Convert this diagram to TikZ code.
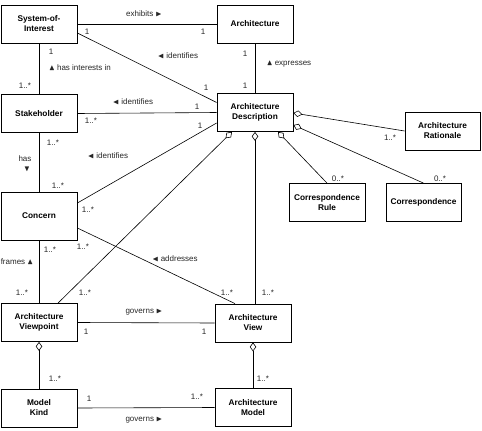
\documentclass[tikz,border=0pt]{standalone}
\usepackage{amssymb}
\usepackage{amsmath}
\usepackage{fontspec}
\setmainfont{Liberation Sans}
\usetikzlibrary{arrows.meta}
\tikzset{
  cls/.style={draw, line width=0.8pt, minimum width=76pt, minimum height=38pt,
    align=center, inner sep=1pt, font=\bfseries\fontsize{8.3}{10}\selectfont},
  lbl/.style={font=\fontsize{8}{9.5}\selectfont, text=black!85, inner sep=0pt},
  agg/.style={{Diamond[open,length=9pt,width=6.5pt]}-}
}

\begin{document}
\begin{tikzpicture}[x=1pt,y=-1pt,line width=0.6pt]
\useasboundingbox (0,0) rectangle (482,431);
% classes
\node[cls] (soi) at (39,24) {System-of-\\Interest};
\node[cls] (arch) at (255,24) {Architecture};
\node[cls] (stake) at (39,113.5) {Stakeholder};
\node[cls] (ad) at (255,112.5) {Architecture\\Description};
\node[cls, minimum width=75pt] (rat) at (442.5,131) {Architecture\\Rationale};
\node[cls] (crule) at (327,202.5) {Correspondence\\Rule};
\node[cls, minimum width=75pt] (corr) at (423.5,202.5) {Correspondence};
\node[cls, minimum height=48pt] (concern) at (39,216) {Concern};
\node[cls] (vp) at (39,322.5) {Architecture\\Viewpoint};
\node[cls] (view) at (253,323) {Architecture\\View};
\node[cls] (mk) at (39,408) {Model\\Kind};
\node[cls] (model) at (253,407.5) {Architecture\\Model};
% associations
\draw (soi.east) -- (arch.west);
\draw ([yshift=-9pt]soi.east) -- ([yshift=10pt]ad.west);
\draw (arch.south) -- (ad.north);
\draw (soi.south) -- (stake.north);
\draw (stake.east) -- (ad.west);
\draw (stake.south) -- (concern.north);
\draw ([yshift=13pt]concern.east) -- ([yshift=-10.5pt]ad.west);
\draw ([yshift=-12pt]concern.east) -- ([xshift=-18pt]view.north);
\draw (concern.south) -- (vp.north);
\draw (vp.east) -- (view.west);
\draw (mk.east) -- (model.west);
% aggregations
\draw[agg] ([xshift=-23pt]ad.south) -- ([xshift=19pt]vp.north);
\draw[agg] (ad.south) -- (ad.south |- view.north);
\draw[agg] ([xshift=23pt]ad.south) -- (crule.north);
\draw[agg] ([yshift=-0.5pt]ad.east) -- (rat.west);
\draw[agg] ([yshift=-12.5pt]ad.east) -- (corr.north);
\draw[agg] (vp.south) -- (mk.north);
\draw[agg] (view.south) -- (model.north);
% association names
\node[lbl] (n1) at (144,14) {exhibits $\blacktriangleright$};
\node[lbl] (n2) at (178,56) {$\blacktriangleleft$ identifies};
\node[lbl] (n3) at (289,64) {$\blacktriangle$ expresses};
\node[lbl] (n4) at (80,68) {$\blacktriangle$ has interests in};
\node[lbl] (n5) at (133,102) {$\blacktriangleleft$ identifies};
\node[lbl] (n6) at (25,159) {has};
\node[lbl] (n7) at (27,169) {$\blacktriangledown$};
\node[lbl] (n8) at (108,156) {$\blacktriangleleft$ identifies};
\node[lbl] (n9) at (175,259) {$\blacktriangleleft$ addresses};
\node[lbl] (n10) at (17,262) {frames $\blacktriangle$};
\node[lbl] (n11) at (144,312) {governs $\blacktriangleright$};
\node[lbl] (n12) at (144,420) {governs $\blacktriangleright$};
% multiplicities
\node[lbl] (m1) at (87,32) {1};
\node[lbl] (m2) at (203,32) {1};
\node[lbl] (m3) at (206,88) {1};
\node[lbl] (m4) at (245,54) {1};
\node[lbl] (m5) at (245,86) {1};
\node[lbl] (m6) at (51,52) {1};
\node[lbl] (m7) at (25,86) {1..*};
\node[lbl] (m8) at (91,121) {1..*};
\node[lbl] (m9) at (197,107) {1};
\node[lbl] (m10) at (200,126) {1};
\node[lbl] (m11) at (53,143) {1..*};
\node[lbl] (m12) at (58,186) {1..*};
\node[lbl] (m13) at (88,210) {1..*};
\node[lbl] (m14) at (83,247) {1..*};
\node[lbl] (m15) at (50,250) {1..*};
\node[lbl] (m16) at (22,293) {1..*};
\node[lbl] (m17) at (85,293) {1..*};
\node[lbl] (m18) at (227,293) {1..*};
\node[lbl] (m19) at (268,293) {1..*};
\node[lbl] (m20) at (86,332) {1};
\node[lbl] (m21) at (204,332) {1};
\node[lbl] (m22) at (55,379) {1..*};
\node[lbl] (m23) at (263,379) {1..*};
\node[lbl] (m24) at (89,399) {1};
\node[lbl] (m25) at (197,397) {1..*};
\node[lbl] (m26) at (338,179) {0..*};
\node[lbl] (m27) at (440,179) {0..*};
\node[lbl] (m28) at (390,138) {1..*};
\end{tikzpicture}
\end{document}
